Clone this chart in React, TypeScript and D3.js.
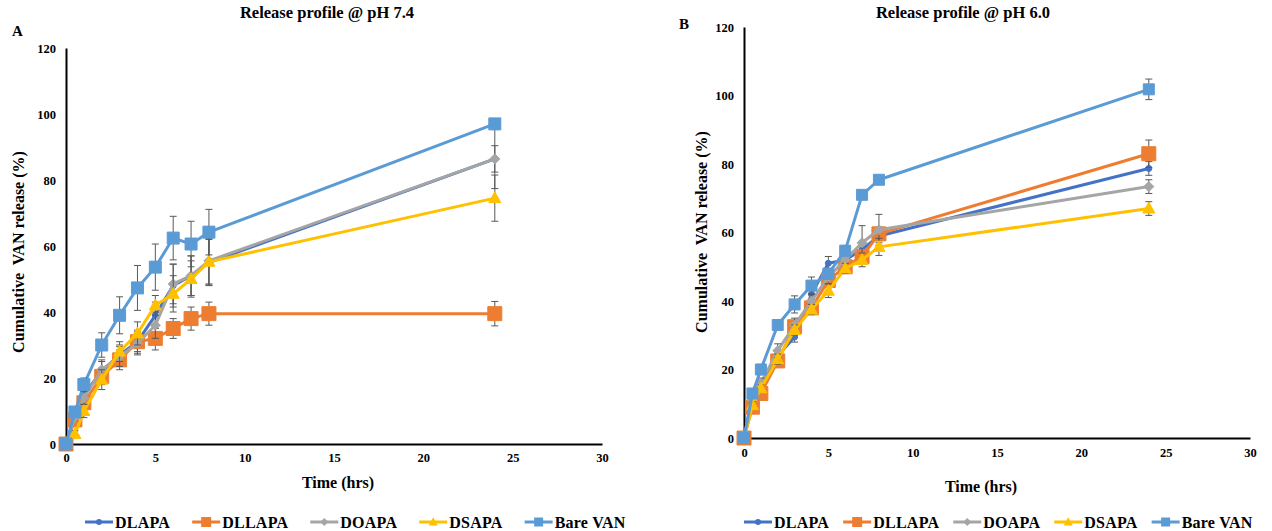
import React, { useEffect, useRef } from "react";
import * as d3 from "d3";

// Sampling times (hours)
const times = [0, 0.5, 1, 2, 3, 4, 5, 6, 7, 8, 24];

const seriesNames = ["DLAPA", "DLLAPA", "DOAPA", "DSAPA", "Bare VAN"];
const seriesColors = ["#4472C4", "#ED7D31", "#A5A5A5", "#FFC000", "#5B9BD5"];

const xTicks = [0, 5, 10, 15, 20, 25, 30];
const yTicks = [0, 20, 40, 60, 80, 100, 120];

// Cumulative release (%) at pH 7.4
const dlapa74 = [0, 8, 15, 22, 27, 31, 39, 48, 51, 55, 86.4];
const dllapa74 = [0, 7.3, 12.5, 20.5, 25.5, 31, 32, 35, 38, 39.5, 39.5];
const doapa74 = [0, 8, 14, 22.5, 26.5, 30.5, 36, 48.5, 51, 55.5, 86.4];
const dsapa74 = [0, 3, 10, 19.5, 28, 33.5, 42, 45.5, 50, 55.2, 74.5];
const bare74 = [0, 9.7, 18, 30, 39, 47.3, 53.6, 62.4, 60.6, 64.2, 97];

// Standard deviations at pH 7.4
const dlapa74Err = [0, 1, 2, 3, 3, 3, 4, 6.5, 6, 7, 9];
const dllapa74Err = [0, 1, 2, 2.5, 3, 3.5, 3.5, 3, 3.5, 3.5, 3.7];
const doapa74Err = [0, 1, 2, 3, 3, 3.5, 4, 6, 6, 7, 4];
const dsapa74Err = [0, 1, 2, 3, 3, 3.5, 3, 5.5, 5.5, 7, 7];
const bare74Err = [0, 1, 2, 3.7, 5.6, 6.8, 7, 6.6, 6.9, 6.9, 1.5];

// Cumulative release (%) at pH 6.0
const dlapa60 = [0, 12, 16, 24, 29.5, 42, 51, 52, 55, 59, 78.7];
const dllapa60 = [0, 9, 13, 22.5, 32.5, 38, 46, 50, 53, 59.6, 83];
const doapa60 = [0, 11, 16, 25.5, 33, 40, 47, 52, 57, 60.8, 73.4];
const dsapa60 = [0, 9.6, 14.5, 23, 31.5, 37.5, 43, 49.5, 52, 55.8, 67];
const bare60 = [0, 13, 20, 33, 39, 44.5, 48, 54.7, 71, 75.4, 101.8];

// Standard deviations at pH 6.0
const dlapa60Err = [0, 1, 1, 1.5, 1.5, 1.5, 2, 1.5, 1.5, 2, 2];
const dllapa60Err = [0, 1, 1, 1.5, 1.5, 1.5, 2, 1.5, 1.5, 2, 4];
const doapa60Err = [0, 1, 1.5, 2, 2, 2, 2, 2, 5, 4.5, 2];
const dsapa60Err = [0, 1, 1, 1.5, 1.5, 1.5, 2, 1.5, 2, 2.5, 2];
const bare60Err = [0, 1, 1.5, 1.5, 2.5, 2.5, 1.5, 1.5, 1, 1, 3];

const FONT = "'Liberation Serif', 'Times New Roman', serif";

type Panel = {
  label: string;
  labelX: number;
  labelY: number;
  title: string;
  titleX: number;
  x0: number;
  x1: number;
  y0: number;
  y1: number;
  xLabelPad: number;
  yTitleX: number;
  yTitleY: number;
  xTitleX: number;
  xTitleY: number;
  values: number[][];
  errors: number[][];
  markerSizes: number[];
  legendX: number;
  legendGap: number;
};

function markerPath(kind: number, s: number): string {
  if (kind === 0) return d3.symbol(d3.symbolCircle, Math.PI * (s / 2) * (s / 2))() as string;
  if (kind === 1 || kind === 4) return d3.symbol(d3.symbolSquare, s * s)() as string;
  if (kind === 2) {
    const h = s / 2;
    return `M0,${-h}L${h},0L0,${h}L${-h},0Z`;
  }
  const h = s / 2;
  return `M0,${-h * 1.05}L${h},${h * 0.75}L${-h},${h * 0.75}Z`;
}

const legendMarkerSizes = [6, 10, 8, 9, 9];

function drawPanel(svg: d3.Selection<SVGSVGElement, unknown, null, undefined>, p: Panel) {
  const g = svg.append("g");
  const x = d3.scaleLinear().domain([0, 30]).range([p.x0, p.x1]);
  const y = d3.scaleLinear().domain([0, 120]).range([p.y0, p.y1]);

  // panel letter and title
  g.append("text")
    .attr("x", p.labelX)
    .attr("y", p.labelY)
    .attr("font-family", FONT)
    .attr("font-weight", "bold")
    .attr("font-size", 15)
    .text(p.label);
  g.append("text")
    .attr("x", p.titleX)
    .attr("y", 18)
    .attr("text-anchor", "middle")
    .attr("font-family", FONT)
    .attr("font-weight", "bold")
    .attr("font-size", 16.5)
    .text(p.title);

  // axes
  const yAxis = g
    .append("g")
    .attr("transform", `translate(${p.x0},0)`)
    .call(d3.axisLeft(y).tickValues(yTicks).tickSize(0).tickPadding(10));
  const xAxis = g
    .append("g")
    .attr("transform", `translate(0,${p.y0})`)
    .call(d3.axisBottom(x).tickValues(xTicks).tickSize(0).tickPadding(p.xLabelPad));
  [yAxis, xAxis].forEach((a) => {
    a.select(".domain").attr("stroke", "#000").attr("stroke-width", 2);
    a.selectAll("text")
      .attr("font-family", FONT)
      .attr("font-weight", "bold")
      .attr("font-size", 12.5)
      .attr("fill", "#000");
  });

  // axis titles
  g.append("text")
    .attr("transform", `translate(${p.yTitleX},${p.yTitleY}) rotate(-90)`)
    .attr("text-anchor", "middle")
    .attr("dominant-baseline", "middle")
    .attr("font-family", FONT)
    .attr("font-weight", "bold")
    .attr("font-size", 16)
    .style("white-space", "pre")
    .text("Cumulative  VAN release (%)");
  g.append("text")
    .attr("x", p.xTitleX)
    .attr("y", p.xTitleY)
    .attr("text-anchor", "middle")
    .attr("dominant-baseline", "middle")
    .attr("font-family", FONT)
    .attr("font-weight", "bold")
    .attr("font-size", 16)
    .text("Time (hrs)");

  const line = d3
    .line<number>()
    .x((_, i) => x(times[i]))
    .y((v) => y(v));

  p.values.forEach((vals, si) => {
    const sg = g.append("g");
    sg.append("path")
      .attr("d", line(vals) as string)
      .attr("fill", "none")
      .attr("stroke", seriesColors[si])
      .attr("stroke-width", 3)
      .attr("stroke-linejoin", "round");

    // error bars
    const errs = p.errors[si];
    vals.forEach((v, i) => {
      const e = errs[i];
      if (!e) return;
      const cx = x(times[i]);
      const yt = y(v + e);
      const yb = y(v - e);
      sg.append("path")
        .attr("d", `M${cx},${yt}V${yb}M${cx - 3.5},${yt}H${cx + 3.5}M${cx - 3.5},${yb}H${cx + 3.5}`)
        .attr("stroke", "#595959")
        .attr("stroke-width", 1)
        .attr("fill", "none");
    });

    vals.forEach((v, i) => {
      sg.append("path")
        .attr("d", markerPath(si, p.markerSizes[si]))
        .attr("transform", `translate(${x(times[i])},${y(v)})`)
        .attr("fill", seriesColors[si])
        .attr("stroke", seriesColors[si])
        .attr("stroke-width", 1);
    });
  });

  // legend
  const ly = 522;
  let cx = p.legendX;
  seriesNames.forEach((name, si) => {
    const lg = g.append("g");
    lg.append("line")
      .attr("x1", cx)
      .attr("x2", cx + 28)
      .attr("y1", ly)
      .attr("y2", ly)
      .attr("stroke", seriesColors[si])
      .attr("stroke-width", 3);
    lg.append("path")
      .attr("d", markerPath(si, legendMarkerSizes[si]))
      .attr("transform", `translate(${cx + 14},${ly})`)
      .attr("fill", seriesColors[si]);
    const t = lg
      .append("text")
      .attr("x", cx + 30)
      .attr("y", ly)
      .attr("dominant-baseline", "central")
      .attr("font-family", FONT)
      .attr("font-weight", "bold")
      .attr("font-size", 16)
      .attr("letter-spacing", 0.25)
      .text(name);
    const w = (t.node() as SVGTextElement).getComputedTextLength();
    cx += 30 + w + p.legendGap;
  });
}

const panels: Panel[] = [
  {
    label: "A",
    labelX: 12,
    labelY: 36,
    title: "Release profile @ pH  7.4",
    titleX: 327,
    x0: 66,
    x1: 602,
    y0: 444,
    y1: 48,
    xLabelPad: 9,
    yTitleX: 20,
    yTitleY: 252,
    xTitleX: 338,
    xTitleY: 484,
    values: [dlapa74, dllapa74, doapa74, dsapa74, bare74],
    errors: [dlapa74Err, dllapa74Err, doapa74Err, dsapa74Err, bare74Err],
    markerSizes: [6, 14, 10, 12, 12],
    legendX: 85,
    legendGap: 22,
  },
  {
    label: "B",
    labelX: 679,
    labelY: 29,
    title: "Release profile @ pH  6.0",
    titleX: 963,
    x0: 744,
    x1: 1250,
    y0: 438,
    y1: 27,
    xLabelPad: 10,
    yTitleX: 703,
    yTitleY: 232,
    xTitleX: 981,
    xTitleY: 488,
    values: [dlapa60, dllapa60, doapa60, dsapa60, bare60],
    errors: [dlapa60Err, dllapa60Err, doapa60Err, dsapa60Err, bare60Err],
    markerSizes: [6, 14, 10, 12, 11],
    legendX: 744,
    legendGap: 14,
  },
];

export default function App() {
  const ref = useRef<SVGSVGElement | null>(null);
  useEffect(() => {
    if (!ref.current) return;
    const svg = d3.select(ref.current);
    svg.selectAll("*").remove();
    panels.forEach((p) => drawPanel(svg, p));
  }, []);
  return (
    <svg
      ref={ref}
      width={1272}
      height={531}
      style={{ position: "absolute", left: 0, top: 0, background: "#fff", display: "block" }}
    />
  );
}
